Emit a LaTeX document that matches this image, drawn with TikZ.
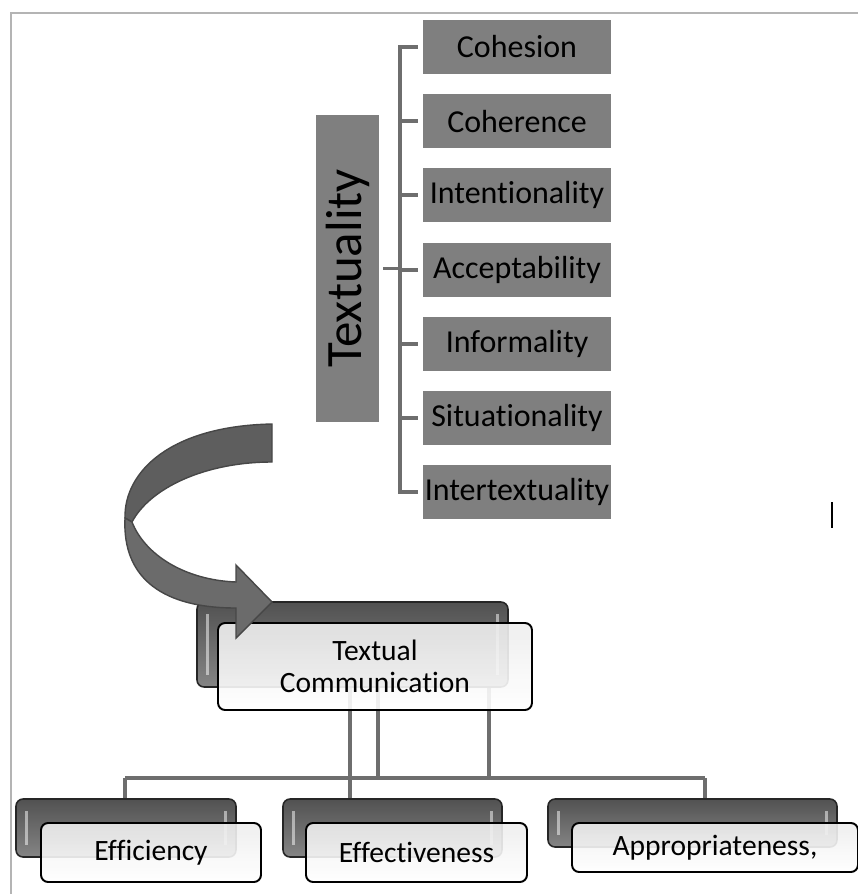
\documentclass[tikz,border=0pt]{standalone}
\usepackage{fontspec}
\setmainfont[Ligatures={NoCommon}]{Carlito}
\usepackage{graphicx}
\usetikzlibrary{positioning}
\definecolor{boxgray}{HTML}{7F7F7F}
\definecolor{linegray}{HTML}{6E6E6E}
\definecolor{framegray}{HTML}{B4B4B4}
\definecolor{arrowdark}{HTML}{5E5E5E}
\definecolor{arrowlight}{HTML}{6B6B6B}
\definecolor{arrowedge}{HTML}{474747}
\tikzset{
attr/.style={fill=boxgray,minimum width=3.76cm,minimum height=1.08cm,inner sep=0pt,font=\fontsize{18.2}{20}\selectfont},
bracket/.style={draw=linegray,line width=2.2pt},
link/.style={draw=linegray,line width=2.2pt},
backbox/.style={rounded corners=4pt,draw=black!85,line width=0.9pt,top color=black!68,bottom color=black!48,inner sep=0pt,
 path picture={
 \draw[white,opacity=0.5,line width=1.6pt] ([xshift=6pt,yshift=-7pt]path picture bounding box.north west) -- ([xshift=6pt,yshift=7pt]path picture bounding box.south west);
 \draw[white,opacity=0.5,line width=1.6pt] ([xshift=-6pt,yshift=-7pt]path picture bounding box.north east) -- ([xshift=-6pt,yshift=7pt]path picture bounding box.south east);}},
frontbox/.style={rounded corners=4pt,draw=black,line width=1.1pt,top color=black!7,bottom color=white,fill opacity=0.9,text opacity=1,inner sep=0pt,font=\fontsize{16.8}{18.2}\selectfont,align=center}
}
\begin{document}
\begin{tikzpicture}[x=0.02cm,y=-0.02cm]
\useasboundingbox (0,0) rectangle (858,894);
\draw[framegray,line width=1.1pt] (858,13) -- (11,13) -- (11,894);

\node[attr] (coh) at (517,47) {Cohesion};
\node[attr,below=0.39cm of coh] (cor) {Coherence};
\node[attr,below=0.39cm of cor] (int) {Intentionality};
\node[attr,below=0.39cm of int] (acc) {Acceptability};
\node[attr,below=0.39cm of acc] (inf) {Informality};
\node[attr,below=0.39cm of inf] (sit) {Situationality};
\node[attr,below=0.39cm of sit] (itx) {Intertextuality};
\node[fill=boxgray,minimum width=1.26cm,minimum height=6.14cm,inner sep=0pt] (txt) at (347.5,268.5) {\fontsize{29}{30}\selectfont\rotatebox{90}{Textuality}};

\draw[bracket] ([xshift=-1mm]coh.west) -- ([xshift=-4.6mm]coh.west) -- ([xshift=-4.6mm]itx.west) -- ([xshift=-1mm]itx.west);
\draw[bracket] ([xshift=-1mm]cor.west) -- ([xshift=-4.6mm]cor.west);
\draw[bracket] ([xshift=-1mm]int.west) -- ([xshift=-4.6mm]int.west);
\draw[bracket] ([xshift=-1mm]acc.west) -- ([xshift=-4.6mm]acc.west);
\draw[bracket] ([xshift=-1mm]inf.west) -- ([xshift=-4.6mm]inf.west);
\draw[bracket] ([xshift=-1mm]sit.west) -- ([xshift=-4.6mm]sit.west);
\draw[bracket] ([xshift=0.08cm]txt.east) -- ([xshift=-4.6mm]acc.west |- txt.east);

\node[backbox,minimum width=6.22cm,minimum height=1.7cm] (tcb) at (352.5,644.5) {};
\node[backbox,minimum width=4.4cm,minimum height=1.16cm] (efc-b) at (126,828) {};
\node[backbox,minimum width=4.38cm,minimum height=1.16cm] (efv-b) at (392.5,828) {};
\node[backbox,minimum width=5.78cm,minimum height=0.96cm] (apr-b) at (692.5,823) {};

\coordinate (busl) at (125,778);
\coordinate (busr) at (705,778);
\draw[link] (busl) -- (busr);
\draw[link] (busl) -- (busl |- efc-b.north);
\draw[link] (busr) -- (busr |- apr-b.north);
\draw[link] ([xshift=-0.05cm]tcb.south) -- ([xshift=-0.05cm]tcb.south |- efv-b.north);
\draw[link] ([xshift=0.51cm]tcb.south) -- ([xshift=0.51cm]tcb.south |- busl);
\draw[link] ([xshift=2.73cm]tcb.south) -- ([xshift=2.73cm]tcb.south |- busl);

\node[frontbox,minimum width=6.28cm,minimum height=1.74cm] (tc) at (375,666.5) {Textual\\Communication};
\node[frontbox,minimum width=4.4cm,minimum height=1.18cm] (efc) at (151,852.5) {Efficiency};
\node[frontbox,minimum width=4.42cm,minimum height=1.18cm] (efv) at (416.5,852.5) {Effectiveness};
\node[frontbox,minimum width=5.72cm,minimum height=0.98cm] (apr) at (715,847.5) {Appropriateness,};

\filldraw[fill=arrowdark,draw=arrowedge,line width=0.8pt] (272,424) .. controls (170,426) and (124,472) .. (125,518) -- (132,522) .. controls (150,488) and (205,462) .. (272,462) -- cycle;
\filldraw[fill=arrowlight,draw=arrowedge,line width=0.8pt] (125,518) .. controls (122,580) and (165,608) .. (236,608) -- (236,638) -- (272,602) -- (236,565) -- (236,582) .. controls (185,580) and (145,555) .. (132,522) -- cycle;

\draw[line width=1.1pt] (832,502) -- (832,528);
\end{tikzpicture}
\end{document}
